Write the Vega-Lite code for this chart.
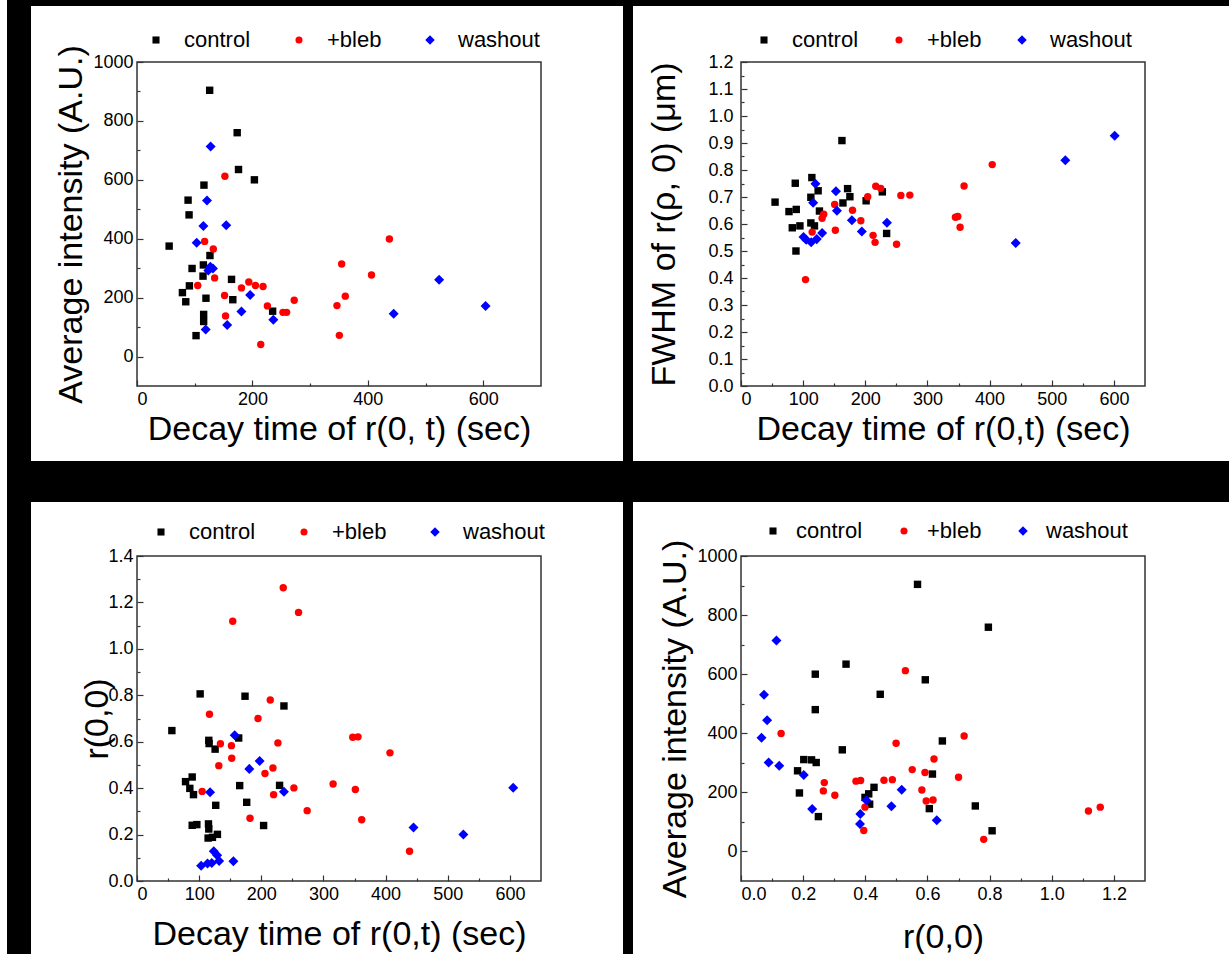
{
  "$schema": "https://vega.github.io/schema/vega-lite/v6.json",
  "background": "white",
  "padding": {"left": 7, "top": 0, "right": 0, "bottom": 0},
  "config": {
    "font": "Liberation Sans",
    "axis": {"labelFontSize": 18, "titleFontSize": 34, "titleFontWeight": "normal", "labelColor": "#000", "titleColor": "#000", "tickColor": "#333", "tickWidth": 1.2, "grid": false, "domain": false, "tickSize": -6, "labelPadding": 10, "titlePadding": 4, "titleLimit": 0},
    "legend": {"labelFontSize": 22, "symbolSize": 50, "labelOffset": 17, "columnPadding": 37, "labelColor": "#000", "symbolStrokeWidth": 0, "labelLimit": 500}
  },
  "datasets": {
    "blank": [{}],
    "p1": [
      {"x":125.9,"y":904,"g":"control"},{"x":173.6,"y":760,"g":"control"},{"x":175.9,"y":635,"g":"control"},{"x":203.4,"y":600,"g":"control"},{"x":116,"y":582,"g":"control"},{"x":88.5,"y":531,"g":"control"},{"x":90.2,"y":481,"g":"control"},{"x":55.7,"y":375,"g":"control"},{"x":126.4,"y":343,"g":"control"},{"x":115,"y":311,"g":"control"},{"x":95.4,"y":299,"g":"control"},{"x":114.4,"y":273,"g":"control"},{"x":163.8,"y":262,"g":"control"},{"x":90.8,"y":240,"g":"control"},{"x":78.7,"y":217,"g":"control"},{"x":119.5,"y":198,"g":"control"},{"x":166,"y":193,"g":"control"},{"x":84.5,"y":186,"g":"control"},{"x":235,"y":154,"g":"control"},{"x":115.5,"y":143,"g":"control"},{"x":115.5,"y":119,"g":"control"},{"x":102.3,"y":71,"g":"control"},
      {"x":152.3,"y":612,"g":"+bleb"},{"x":117.2,"y":391,"g":"+bleb"},{"x":132.2,"y":365,"g":"+bleb"},{"x":134.5,"y":267,"g":"+bleb"},{"x":105.2,"y":241,"g":"+bleb"},{"x":193.7,"y":253,"g":"+bleb"},{"x":181,"y":233,"g":"+bleb"},{"x":205.2,"y":241,"g":"+bleb"},{"x":218.4,"y":238,"g":"+bleb"},{"x":151.7,"y":207,"g":"+bleb"},{"x":225.9,"y":172,"g":"+bleb"},{"x":252.9,"y":150,"g":"+bleb"},{"x":259.2,"y":150,"g":"+bleb"},{"x":272.4,"y":191,"g":"+bleb"},{"x":153.4,"y":138,"g":"+bleb"},{"x":214.4,"y":41,"g":"+bleb"},{"x":437.3,"y":399,"g":"+bleb"},{"x":354.6,"y":314,"g":"+bleb"},{"x":406.3,"y":277,"g":"+bleb"},{"x":360.9,"y":205,"g":"+bleb"},{"x":346.5,"y":173,"g":"+bleb"},{"x":350.6,"y":72,"g":"+bleb"},
      {"x":127.6,"y":713,"g":"washout"},{"x":121.3,"y":530,"g":"washout"},{"x":115,"y":443,"g":"washout"},{"x":154.6,"y":446,"g":"washout"},{"x":103.4,"y":386,"g":"washout"},{"x":123.6,"y":292,"g":"washout"},{"x":131.6,"y":299,"g":"washout"},{"x":127,"y":305,"g":"washout"},{"x":196,"y":209,"g":"washout"},{"x":181,"y":153,"g":"washout"},{"x":236.2,"y":125,"g":"washout"},{"x":156.3,"y":107,"g":"washout"},{"x":119,"y":92,"g":"washout"},{"x":523.5,"y":261,"g":"washout"},{"x":444.8,"y":145,"g":"washout"},{"x":604,"y":172,"g":"washout"}
    ],
    "p2": [
      {"x":162.4,"y":0.909,"g":"control"},{"x":114,"y":0.772,"g":"control"},{"x":87.3,"y":0.751,"g":"control"},{"x":171.5,"y":0.731,"g":"control"},{"x":124.1,"y":0.723,"g":"control"},{"x":227.4,"y":0.719,"g":"control"},{"x":112.4,"y":0.699,"g":"control"},{"x":175.2,"y":0.701,"g":"control"},{"x":54.8,"y":0.681,"g":"control"},{"x":201.3,"y":0.686,"g":"control"},{"x":164,"y":0.678,"g":"control"},{"x":126.2,"y":0.648,"g":"control"},{"x":88.9,"y":0.654,"g":"control"},{"x":77.2,"y":0.646,"g":"control"},{"x":112.4,"y":0.604,"g":"control"},{"x":94.8,"y":0.593,"g":"control"},{"x":82.5,"y":0.586,"g":"control"},{"x":118.2,"y":0.593,"g":"control"},{"x":234.3,"y":0.565,"g":"control"},{"x":88.4,"y":0.5,"g":"control"},
      {"x":203.9,"y":0.701,"g":"+bleb"},{"x":216.8,"y":0.74,"g":"+bleb"},{"x":224.8,"y":0.732,"g":"+bleb"},{"x":257.2,"y":0.706,"g":"+bleb"},{"x":271.6,"y":0.707,"g":"+bleb"},{"x":358.9,"y":0.741,"g":"+bleb"},{"x":404.2,"y":0.82,"g":"+bleb"},{"x":150.7,"y":0.672,"g":"+bleb"},{"x":179.4,"y":0.651,"g":"+bleb"},{"x":130.5,"y":0.621,"g":"+bleb"},{"x":133.1,"y":0.636,"g":"+bleb"},{"x":192.8,"y":0.612,"g":"+bleb"},{"x":151.8,"y":0.577,"g":"+bleb"},{"x":212.5,"y":0.558,"g":"+bleb"},{"x":215.7,"y":0.532,"g":"+bleb"},{"x":250.3,"y":0.525,"g":"+bleb"},{"x":114.5,"y":0.57,"g":"+bleb"},{"x":345,"y":0.625,"g":"+bleb"},{"x":348.8,"y":0.628,"g":"+bleb"},{"x":352.5,"y":0.588,"g":"+bleb"},{"x":103.8,"y":0.394,"g":"+bleb"},
      {"x":601.2,"y":0.927,"g":"washout"},{"x":521.8,"y":0.836,"g":"washout"},{"x":442,"y":0.53,"g":"washout"},{"x":119.8,"y":0.749,"g":"washout"},{"x":152.8,"y":0.721,"g":"washout"},{"x":116.1,"y":0.679,"g":"washout"},{"x":154.4,"y":0.649,"g":"washout"},{"x":178.4,"y":0.614,"g":"washout"},{"x":234.8,"y":0.605,"g":"washout"},{"x":194.4,"y":0.572,"g":"washout"},{"x":100.6,"y":0.552,"g":"washout"},{"x":104.9,"y":0.542,"g":"washout"},{"x":112.9,"y":0.532,"g":"washout"},{"x":121.9,"y":0.544,"g":"washout"},{"x":130.5,"y":0.567,"g":"washout"}
    ],
    "p3": [
      {"x":101.6,"y":0.806,"g":"control"},{"x":173.8,"y":0.796,"g":"control"},{"x":236.4,"y":0.754,"g":"control"},{"x":56.1,"y":0.648,"g":"control"},{"x":115.5,"y":0.606,"g":"control"},{"x":116,"y":0.592,"g":"control"},{"x":163.6,"y":0.616,"g":"control"},{"x":125.7,"y":0.568,"g":"control"},{"x":88.8,"y":0.448,"g":"control"},{"x":78.1,"y":0.428,"g":"control"},{"x":85,"y":0.399,"g":"control"},{"x":90.9,"y":0.372,"g":"control"},{"x":165.2,"y":0.411,"g":"control"},{"x":229.4,"y":0.412,"g":"control"},{"x":126.7,"y":0.326,"g":"control"},{"x":176.5,"y":0.339,"g":"control"},{"x":88.8,"y":0.24,"g":"control"},{"x":96.3,"y":0.243,"g":"control"},{"x":115,"y":0.246,"g":"control"},{"x":203.7,"y":0.239,"g":"control"},{"x":115.5,"y":0.224,"g":"control"},{"x":129.4,"y":0.201,"g":"control"},{"x":114.4,"y":0.185,"g":"control"},{"x":121.4,"y":0.188,"g":"control"},
      {"x":235.3,"y":1.263,"g":"+bleb"},{"x":259.9,"y":1.157,"g":"+bleb"},{"x":154,"y":1.119,"g":"+bleb"},{"x":214.4,"y":0.78,"g":"+bleb"},{"x":116.6,"y":0.718,"g":"+bleb"},{"x":194.7,"y":0.7,"g":"+bleb"},{"x":347.1,"y":0.619,"g":"+bleb"},{"x":355.6,"y":0.621,"g":"+bleb"},{"x":134.2,"y":0.591,"g":"+bleb"},{"x":151.9,"y":0.583,"g":"+bleb"},{"x":226.7,"y":0.595,"g":"+bleb"},{"x":152.4,"y":0.529,"g":"+bleb"},{"x":407,"y":0.552,"g":"+bleb"},{"x":131.6,"y":0.497,"g":"+bleb"},{"x":218.7,"y":0.487,"g":"+bleb"},{"x":205.9,"y":0.463,"g":"+bleb"},{"x":104.8,"y":0.386,"g":"+bleb"},{"x":252.4,"y":0.401,"g":"+bleb"},{"x":219.8,"y":0.372,"g":"+bleb"},{"x":315.5,"y":0.418,"g":"+bleb"},{"x":351.3,"y":0.394,"g":"+bleb"},{"x":273.8,"y":0.303,"g":"+bleb"},{"x":181.8,"y":0.27,"g":"+bleb"},{"x":361.5,"y":0.264,"g":"+bleb"},{"x":438.5,"y":0.128,"g":"+bleb"},
      {"x":157.2,"y":0.628,"g":"washout"},{"x":197.3,"y":0.517,"g":"washout"},{"x":180.7,"y":0.483,"g":"washout"},{"x":117.6,"y":0.382,"g":"washout"},{"x":236.4,"y":0.384,"g":"washout"},{"x":605.3,"y":0.402,"g":"washout"},{"x":444.9,"y":0.23,"g":"washout"},{"x":525.1,"y":0.2,"g":"washout"},{"x":123.5,"y":0.128,"g":"washout"},{"x":128.9,"y":0.111,"g":"washout"},{"x":132.1,"y":0.086,"g":"washout"},{"x":120.3,"y":0.078,"g":"washout"},{"x":113.4,"y":0.075,"g":"washout"},{"x":103.2,"y":0.066,"g":"washout"},{"x":155.1,"y":0.085,"g":"washout"}
    ],
    "p4": [
      {"x":0.568,"y":904,"g":"control"},{"x":0.796,"y":759,"g":"control"},{"x":0.338,"y":634,"g":"control"},{"x":0.239,"y":600,"g":"control"},{"x":0.593,"y":581,"g":"control"},{"x":0.448,"y":532,"g":"control"},{"x":0.239,"y":480,"g":"control"},{"x":0.648,"y":374,"g":"control"},{"x":0.326,"y":344,"g":"control"},{"x":0.202,"y":311,"g":"control"},{"x":0.227,"y":310,"g":"control"},{"x":0.242,"y":301,"g":"control"},{"x":0.182,"y":273,"g":"control"},{"x":0.616,"y":262,"g":"control"},{"x":0.428,"y":217,"g":"control"},{"x":0.411,"y":195,"g":"control"},{"x":0.399,"y":183,"g":"control"},{"x":0.414,"y":160,"g":"control"},{"x":0.188,"y":198,"g":"control"},{"x":0.754,"y":154,"g":"control"},{"x":0.606,"y":145,"g":"control"},{"x":0.249,"y":118,"g":"control"},{"x":0.808,"y":70,"g":"control"},
      {"x":0.529,"y":612,"g":"+bleb"},{"x":0.129,"y":399,"g":"+bleb"},{"x":0.718,"y":391,"g":"+bleb"},{"x":0.499,"y":366,"g":"+bleb"},{"x":0.621,"y":313,"g":"+bleb"},{"x":0.551,"y":277,"g":"+bleb"},{"x":0.592,"y":267,"g":"+bleb"},{"x":0.7,"y":251,"g":"+bleb"},{"x":0.37,"y":238,"g":"+bleb"},{"x":0.385,"y":240,"g":"+bleb"},{"x":0.46,"y":241,"g":"+bleb"},{"x":0.487,"y":243,"g":"+bleb"},{"x":0.268,"y":233,"g":"+bleb"},{"x":0.265,"y":205,"g":"+bleb"},{"x":0.302,"y":190,"g":"+bleb"},{"x":0.582,"y":208,"g":"+bleb"},{"x":0.596,"y":171,"g":"+bleb"},{"x":0.618,"y":174,"g":"+bleb"},{"x":0.399,"y":150,"g":"+bleb"},{"x":0.395,"y":71,"g":"+bleb"},{"x":0.781,"y":41,"g":"+bleb"},{"x":1.118,"y":137,"g":"+bleb"},{"x":1.156,"y":150,"g":"+bleb"},
      {"x":0.114,"y":714,"g":"washout"},{"x":0.074,"y":530,"g":"washout"},{"x":0.084,"y":444,"g":"washout"},{"x":0.066,"y":385,"g":"washout"},{"x":0.089,"y":301,"g":"washout"},{"x":0.123,"y":290,"g":"washout"},{"x":0.202,"y":259,"g":"washout"},{"x":0.517,"y":209,"g":"washout"},{"x":0.229,"y":144,"g":"washout"},{"x":0.484,"y":153,"g":"washout"},{"x":0.384,"y":127,"g":"washout"},{"x":0.403,"y":173,"g":"washout"},{"x":0.383,"y":93,"g":"washout"},{"x":0.63,"y":106,"g":"washout"}
    ]
  },
  "columns": 8,
  "spacing": 0,
  "bounds": "flush",
  "resolve": {"scale": {"x": "independent", "y": "independent", "color": "independent", "shape": "independent"}},
  "concat": [
    {"width":24,"height":6,"data":{"name":"blank"},"mark":{"type":"point","opacity":0},"encoding":{},"view":{"fill":"#000","stroke":null}},
    {"width":106,"height":6,"data":{"name":"blank"},"mark":{"type":"point","opacity":0},"encoding":{},"view":{"fill":"#000","stroke":null}},
    {"width":404,"height":6,"data":{"name":"blank"},"mark":{"type":"point","opacity":0},"encoding":{},"view":{"fill":"#000","stroke":null}},
    {"width":82,"height":6,"data":{"name":"blank"},"mark":{"type":"point","opacity":0},"encoding":{},"view":{"fill":"#000","stroke":null}},
    {"width":10,"height":6,"data":{"name":"blank"},"mark":{"type":"point","opacity":0},"encoding":{},"view":{"fill":"#000","stroke":null}},
    {"width":108,"height":6,"data":{"name":"blank"},"mark":{"type":"point","opacity":0},"encoding":{},"view":{"fill":"#000","stroke":null}},
    {"width":404,"height":6,"data":{"name":"blank"},"mark":{"type":"point","opacity":0},"encoding":{},"view":{"fill":"#000","stroke":null}},
    {"width":84,"height":6,"data":{"name":"blank"},"mark":{"type":"point","opacity":0},"encoding":{},"view":{"fill":"#000","stroke":null}},

    {"width":24,"height":56,"data":{"name":"blank"},"mark":{"type":"point","opacity":0},"encoding":{},"view":{"fill":"#000","stroke":null}},
    {"width":106,"height":56,"data":{"name":"blank"},"mark":{"type":"point","opacity":0},"encoding":{},"view":{"stroke":null}},
    {"width":404,"height":56,"data":{"name":"blank"},"mark":{"type":"point","opacity":0},"encoding":{},"view":{"stroke":null}},
    {"width":82,"height":56,"data":{"name":"blank"},"mark":{"type":"point","opacity":0},"encoding":{},"view":{"stroke":null}},
    {"width":10,"height":56,"data":{"name":"blank"},"mark":{"type":"point","opacity":0},"encoding":{},"view":{"fill":"#000","stroke":null}},
    {"width":108,"height":56,"data":{"name":"blank"},"mark":{"type":"point","opacity":0},"encoding":{},"view":{"stroke":null}},
    {"width":404,"height":56,"data":{"name":"blank"},"mark":{"type":"point","opacity":0},"encoding":{},"view":{"stroke":null}},
    {"width":84,"height":56,"data":{"name":"blank"},"mark":{"type":"point","opacity":0},"encoding":{},"view":{"stroke":null}},

    {"width":24,"height":324,"data":{"name":"blank"},"mark":{"type":"point","opacity":0},"encoding":{},"view":{"fill":"#000","stroke":null}},
    {"width":106,"height":324,"data":{"name":"blank"},"mark":{"type":"point","opacity":0},"encoding":{},"view":{"stroke":null}},
    {
      "width":404,"height":324,"data":{"name":"p1"},
      "view":{"stroke":"#333","strokeWidth":1.5},
      "resolve":{"axis":{"x":"independent","y":"independent"}},
      "layer":[
        {"mark":{"type":"point","filled":true,"size":55,"opacity":1},
         "encoding":{
           "x":{"field":"x","type":"quantitative","scale":{"domain":[0,700],"nice":false,"zero":false},"axis":{"orient":"bottom","values":[0,200,400,600],"title":"Decay time of r(0, t) (sec)"}},
           "y":{"field":"y","type":"quantitative","scale":{"domain":[-100,1000],"nice":false,"zero":false},"axis":{"orient":"left","values":[0,200,400,600,800,1000],"format":"d","title":"Average intensity (A.U.)","titleLimit":0}},
           "color":{"field":"g","type":"nominal","scale":{"domain":["control","+bleb","washout"],"range":["#000000","#ff0000","#0000ff"]},"legend":{"orient":"none","legendX":8,"legendY":-33,"direction":"horizontal","title":null}},
           "shape":{"field":"g","type":"nominal","scale":{"domain":["control","+bleb","washout"],"range":["square","circle","M0,-1.35L1.35,0L0,1.35L-1.35,0Z"]},"legend":{"orient":"none","legendX":8,"legendY":-33,"direction":"horizontal","title":null}}
         }},
        {"mark":{"type":"point","opacity":0},
         "encoding":{
           "x":{"field":"x","type":"quantitative","scale":{"domain":[0,700],"nice":false,"zero":false},"axis":{"orient":"bottom","values":[100,300,500],"labels":false,"title":null,"tickSize":-3}},
           "y":{"field":"y","type":"quantitative","scale":{"domain":[-100,1000],"nice":false,"zero":false},"axis":{"orient":"left","values":[100,300,500,700,900],"labels":false,"title":null,"tickSize":-3}}
         }}
      ]
    },
    {"width":82,"height":324,"data":{"name":"blank"},"mark":{"type":"point","opacity":0},"encoding":{},"view":{"stroke":null}},
    {"width":10,"height":324,"data":{"name":"blank"},"mark":{"type":"point","opacity":0},"encoding":{},"view":{"fill":"#000","stroke":null}},
    {"width":108,"height":324,"data":{"name":"blank"},"mark":{"type":"point","opacity":0},"encoding":{},"view":{"stroke":null}},
    {
      "width":404,"height":324,"data":{"name":"p2"},
      "view":{"stroke":"#333","strokeWidth":1.5},
      "resolve":{"axis":{"x":"independent","y":"independent"}},
      "layer":[
        {"mark":{"type":"point","filled":true,"size":55,"opacity":1},
         "encoding":{
           "x":{"field":"x","type":"quantitative","scale":{"domain":[0,650],"nice":false,"zero":false},"axis":{"orient":"bottom","values":[0,100,200,300,400,500,600],"title":"Decay time of r(0,t) (sec)"}},
           "y":{"field":"y","type":"quantitative","scale":{"domain":[0,1.2],"nice":false,"zero":false},"axis":{"orient":"left","values":[0,0.1,0.2,0.3,0.4,0.5,0.6,0.7,0.8,0.9,1.0,1.1,1.2],"format":".1f","title":"FWHM of r(ρ, 0) (μm)","titlePadding":26,"labelPadding":14}},
           "color":{"field":"g","type":"nominal","scale":{"domain":["control","+bleb","washout"],"range":["#000000","#ff0000","#0000ff"]},"legend":{"orient":"none","legendX":12,"legendY":-33,"direction":"horizontal","title":null,"columnPadding":29}},
           "shape":{"field":"g","type":"nominal","scale":{"domain":["control","+bleb","washout"],"range":["square","circle","M0,-1.35L1.35,0L0,1.35L-1.35,0Z"]},"legend":{"orient":"none","legendX":12,"legendY":-33,"direction":"horizontal","title":null,"columnPadding":29}}
         }},
        {"mark":{"type":"point","opacity":0},
         "encoding":{
           "x":{"field":"x","type":"quantitative","scale":{"domain":[0,650],"nice":false,"zero":false},"axis":{"orient":"bottom","values":[50,150,250,350,450,550],"labels":false,"title":null,"tickSize":-3}},
           "y":{"field":"y","type":"quantitative","scale":{"domain":[0,1.2],"nice":false,"zero":false},"axis":{"orient":"left","values":[0.05,0.15,0.25,0.35,0.45,0.55,0.65,0.75,0.85,0.95,1.05,1.15],"labels":false,"title":null,"tickSize":-3}}
         }}
      ]
    },
    {"width":84,"height":324,"data":{"name":"blank"},"mark":{"type":"point","opacity":0},"encoding":{},"view":{"stroke":null}},

    {"width":24,"height":75,"data":{"name":"blank"},"mark":{"type":"point","opacity":0},"encoding":{},"view":{"fill":"#000","stroke":null}},
    {"width":106,"height":75,"data":{"name":"blank"},"mark":{"type":"point","opacity":0},"encoding":{},"view":{"stroke":null}},
    {"width":404,"height":75,"data":{"name":"blank"},"mark":{"type":"point","opacity":0},"encoding":{},"view":{"stroke":null}},
    {"width":82,"height":75,"data":{"name":"blank"},"mark":{"type":"point","opacity":0},"encoding":{},"view":{"stroke":null}},
    {"width":10,"height":75,"data":{"name":"blank"},"mark":{"type":"point","opacity":0},"encoding":{},"view":{"fill":"#000","stroke":null}},
    {"width":108,"height":75,"data":{"name":"blank"},"mark":{"type":"point","opacity":0},"encoding":{},"view":{"stroke":null}},
    {"width":404,"height":75,"data":{"name":"blank"},"mark":{"type":"point","opacity":0},"encoding":{},"view":{"stroke":null}},
    {"width":84,"height":75,"data":{"name":"blank"},"mark":{"type":"point","opacity":0},"encoding":{},"view":{"stroke":null}},

    {"width":24,"height":41,"data":{"name":"blank"},"mark":{"type":"point","opacity":0},"encoding":{},"view":{"fill":"#000","stroke":null}},
    {"width":106,"height":41,"data":{"name":"blank"},"mark":{"type":"point","opacity":0},"encoding":{},"view":{"fill":"#000","stroke":null}},
    {"width":404,"height":41,"data":{"name":"blank"},"mark":{"type":"point","opacity":0},"encoding":{},"view":{"fill":"#000","stroke":null}},
    {"width":82,"height":41,"data":{"name":"blank"},"mark":{"type":"point","opacity":0},"encoding":{},"view":{"fill":"#000","stroke":null}},
    {"width":10,"height":41,"data":{"name":"blank"},"mark":{"type":"point","opacity":0},"encoding":{},"view":{"fill":"#000","stroke":null}},
    {"width":108,"height":41,"data":{"name":"blank"},"mark":{"type":"point","opacity":0},"encoding":{},"view":{"fill":"#000","stroke":null}},
    {"width":404,"height":41,"data":{"name":"blank"},"mark":{"type":"point","opacity":0},"encoding":{},"view":{"fill":"#000","stroke":null}},
    {"width":84,"height":41,"data":{"name":"blank"},"mark":{"type":"point","opacity":0},"encoding":{},"view":{"fill":"#000","stroke":null}},

    {"width":24,"height":54,"data":{"name":"blank"},"mark":{"type":"point","opacity":0},"encoding":{},"view":{"fill":"#000","stroke":null}},
    {"width":106,"height":54,"data":{"name":"blank"},"mark":{"type":"point","opacity":0},"encoding":{},"view":{"stroke":null}},
    {"width":404,"height":54,"data":{"name":"blank"},"mark":{"type":"point","opacity":0},"encoding":{},"view":{"stroke":null}},
    {"width":82,"height":54,"data":{"name":"blank"},"mark":{"type":"point","opacity":0},"encoding":{},"view":{"stroke":null}},
    {"width":10,"height":54,"data":{"name":"blank"},"mark":{"type":"point","opacity":0},"encoding":{},"view":{"fill":"#000","stroke":null}},
    {"width":108,"height":54,"data":{"name":"blank"},"mark":{"type":"point","opacity":0},"encoding":{},"view":{"stroke":null}},
    {"width":404,"height":54,"data":{"name":"blank"},"mark":{"type":"point","opacity":0},"encoding":{},"view":{"stroke":null}},
    {"width":84,"height":54,"data":{"name":"blank"},"mark":{"type":"point","opacity":0},"encoding":{},"view":{"stroke":null}},

    {"width":24,"height":325,"data":{"name":"blank"},"mark":{"type":"point","opacity":0},"encoding":{},"view":{"fill":"#000","stroke":null}},
    {"width":106,"height":325,"data":{"name":"blank"},"mark":{"type":"point","opacity":0},"encoding":{},"view":{"stroke":null}},
    {
      "width":404,"height":325,"data":{"name":"p3"},
      "view":{"stroke":"#333","strokeWidth":1.5},
      "resolve":{"axis":{"x":"independent","y":"independent"}},
      "layer":[
        {"mark":{"type":"point","filled":true,"size":55,"opacity":1},
         "encoding":{
           "x":{"field":"x","type":"quantitative","scale":{"domain":[0,650],"nice":false,"zero":false},"axis":{"orient":"bottom","values":[0,100,200,300,400,500,600],"title":"Decay time of r(0,t) (sec)","titlePadding":14}},
           "y":{"field":"y","type":"quantitative","scale":{"domain":[0,1.4],"nice":false,"zero":false},"axis":{"orient":"left","values":[0,0.2,0.4,0.6,0.8,1.0,1.2,1.4],"format":".1f","title":"r(0,0)","titlePadding":-7}},
           "color":{"field":"g","type":"nominal","scale":{"domain":["control","+bleb","washout"],"range":["#000000","#ff0000","#0000ff"]},"legend":{"orient":"none","legendX":13,"legendY":-35,"direction":"horizontal","title":null}},
           "shape":{"field":"g","type":"nominal","scale":{"domain":["control","+bleb","washout"],"range":["square","circle","M0,-1.35L1.35,0L0,1.35L-1.35,0Z"]},"legend":{"orient":"none","legendX":13,"legendY":-35,"direction":"horizontal","title":null}}
         }},
        {"mark":{"type":"point","opacity":0},
         "encoding":{
           "x":{"field":"x","type":"quantitative","scale":{"domain":[0,650],"nice":false,"zero":false},"axis":{"orient":"bottom","values":[50,150,250,350,450,550],"labels":false,"title":null,"tickSize":-3}},
           "y":{"field":"y","type":"quantitative","scale":{"domain":[0,1.4],"nice":false,"zero":false},"axis":{"orient":"left","values":[0.1,0.3,0.5,0.7,0.9,1.1,1.3],"labels":false,"title":null,"tickSize":-3}}
         }}
      ]
    },
    {"width":82,"height":325,"data":{"name":"blank"},"mark":{"type":"point","opacity":0},"encoding":{},"view":{"stroke":null}},
    {"width":10,"height":325,"data":{"name":"blank"},"mark":{"type":"point","opacity":0},"encoding":{},"view":{"fill":"#000","stroke":null}},
    {"width":108,"height":325,"data":{"name":"blank"},"mark":{"type":"point","opacity":0},"encoding":{},"view":{"stroke":null}},
    {
      "width":404,"height":325,"data":{"name":"p4"},
      "view":{"stroke":"#333","strokeWidth":1.5},
      "resolve":{"axis":{"x":"independent","y":"independent"}},
      "layer":[
        {"mark":{"type":"point","filled":true,"size":55,"opacity":1},
         "encoding":{
           "x":{"field":"x","type":"quantitative","scale":{"domain":[0,1.3],"nice":false,"zero":false},"axis":{"orient":"bottom","values":[0,0.2,0.4,0.6,0.8,1.0,1.2],"format":".1f","title":"r(0,0)","titlePadding":17}},
           "y":{"field":"y","type":"quantitative","scale":{"domain":[-100,1000],"nice":false,"zero":false},"axis":{"orient":"left","values":[0,200,400,600,800,1000],"format":"d","title":"Average intensity (A.U.)"}},
           "color":{"field":"g","type":"nominal","scale":{"domain":["control","+bleb","washout"],"range":["#000000","#ff0000","#0000ff"]},"legend":{"orient":"none","legendX":21,"legendY":-36,"direction":"horizontal","title":null,"labelOffset":12,"columnPadding":30}},
           "shape":{"field":"g","type":"nominal","scale":{"domain":["control","+bleb","washout"],"range":["square","circle","M0,-1.35L1.35,0L0,1.35L-1.35,0Z"]},"legend":{"orient":"none","legendX":21,"legendY":-36,"direction":"horizontal","title":null,"labelOffset":12,"columnPadding":30}}
         }},
        {"mark":{"type":"point","opacity":0},
         "encoding":{
           "x":{"field":"x","type":"quantitative","scale":{"domain":[0,1.3],"nice":false,"zero":false},"axis":{"orient":"bottom","values":[0.1,0.3,0.5,0.7,0.9,1.1],"labels":false,"title":null,"tickSize":-3}},
           "y":{"field":"y","type":"quantitative","scale":{"domain":[-100,1000],"nice":false,"zero":false},"axis":{"orient":"left","values":[100,300,500,700,900],"labels":false,"title":null,"tickSize":-3}}
         }}
      ]
    },
    {"width":84,"height":325,"data":{"name":"blank"},"mark":{"type":"point","opacity":0},"encoding":{},"view":{"stroke":null}},

    {"width":24,"height":73,"data":{"name":"blank"},"mark":{"type":"point","opacity":0},"encoding":{},"view":{"fill":"#000","stroke":null}},
    {"width":106,"height":73,"data":{"name":"blank"},"mark":{"type":"point","opacity":0},"encoding":{},"view":{"stroke":null}},
    {"width":404,"height":73,"data":{"name":"blank"},"mark":{"type":"point","opacity":0},"encoding":{},"view":{"stroke":null}},
    {"width":82,"height":73,"data":{"name":"blank"},"mark":{"type":"point","opacity":0},"encoding":{},"view":{"stroke":null}},
    {"width":10,"height":73,"data":{"name":"blank"},"mark":{"type":"point","opacity":0},"encoding":{},"view":{"fill":"#000","stroke":null}},
    {"width":108,"height":73,"data":{"name":"blank"},"mark":{"type":"point","opacity":0},"encoding":{},"view":{"stroke":null}},
    {"width":404,"height":73,"data":{"name":"blank"},"mark":{"type":"point","opacity":0},"encoding":{},"view":{"stroke":null}},
    {"width":84,"height":73,"data":{"name":"blank"},"mark":{"type":"point","opacity":0},"encoding":{},"view":{"stroke":null}}
  ]
}
